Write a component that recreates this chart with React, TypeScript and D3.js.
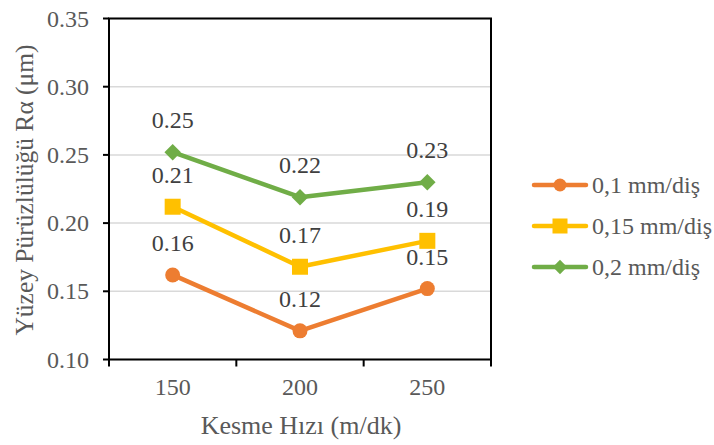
import React from "react";
import * as d3 from "d3";

const categories = ["150", "200", "250"];
const seriesNames = ["0,1 mm/diş", "0,15 mm/diş", "0,2 mm/diş"];
const series01 = [0.162, 0.121, 0.152];
const series015 = [0.212, 0.168, 0.187];
const series02 = [0.252, 0.219, 0.23];
const yTicks = [0.1, 0.15, 0.2, 0.25, 0.3, 0.35];
const colors = ["#ED7D31", "#FFC000", "#70AD47"];
const markers = ["circle", "square", "diamond"];

const W = 714;
const H = 445;
const plot = { left: 109, right: 491, top: 18.5, bottom: 359.5 };
const FONT = "Liberation Serif";
const txt = (size: number) => ({ fontFamily: FONT, fontSize: size });

function Marker({ type, x, y, color, s }: { type: string; x: number; y: number; color: string; s: number }) {
  if (type === "circle") return <circle cx={x} cy={y} r={s * 0.5} fill={color} />;
  if (type === "square")
    return <rect x={x - s * 0.5} y={y - s * 0.5} width={s} height={s} fill={color} />;
  const h = s * 0.55;
  return <path d={`M${x},${y - h}L${x + h},${y}L${x},${y + h}L${x - h},${y}Z`} fill={color} />;
}

export default function App() {
  const data = [series01, series015, series02];
  const x = d3.scaleBand<string>().domain(categories).range([plot.left, plot.right]);
  const y = d3.scaleLinear().domain([0.1, 0.35]).range([plot.bottom, plot.top]);
  const cx = (i: number) => x(categories[i])! + x.bandwidth() / 2;
  const line = d3
    .line<number>()
    .x((_, i) => cx(i))
    .y((d) => y(d));
  const bounds = [...categories.map((c) => x(c)!), plot.right];

  return (
    <svg width={W} height={H} style={{ position: "absolute", left: 0, top: 0, background: "#fff" }}>
      <rect x={0} y={0} width={W} height={H} fill="#fff" />
      {yTicks.map((t) => (
        <line key={t} x1={plot.left} x2={plot.right} y1={y(t)} y2={y(t)} stroke="#D9D9D9" strokeWidth={1.5} />
      ))}
      <rect
        x={plot.left}
        y={plot.top}
        width={plot.right - plot.left}
        height={plot.bottom - plot.top}
        fill="none"
        stroke="#000"
        strokeWidth={2}
      />
      {yTicks.map((t) => (
        <g key={"yt" + t}>
          <line x1={plot.left - 6} x2={plot.left} y1={y(t)} y2={y(t)} stroke="#000" strokeWidth={2} />
          <text x={89} y={y(t)} dy="0.34em" textAnchor="end" style={txt(24)} fill="#595959">
            {t.toFixed(2)}
          </text>
        </g>
      ))}
      {bounds.map((b, i) => (
        <line key={"xt" + i} x1={b} x2={b} y1={plot.bottom} y2={plot.bottom + 7} stroke="#000" strokeWidth={2} />
      ))}
      {categories.map((c, i) => (
        <text key={c} x={cx(i)} y={395} textAnchor="middle" style={txt(24)} fill="#595959">
          {c}
        </text>
      ))}
      <text x={301} y={434} textAnchor="middle" style={txt(26)} fill="#595959">
        Kesme Hızı (m/dk)
      </text>
      <text transform={`translate(33,190) rotate(-90)`} textAnchor="middle" style={txt(25.5)} fill="#595959">
        Yüzey Pürüzlülüğü Rα (μm)
      </text>
      {data.map((s, si) => (
        <g key={"s" + si}>
          <path d={line(s)!} fill="none" stroke={colors[si]} strokeWidth={4.5} strokeLinejoin="round" strokeLinecap="round" />
          {s.map((v, i) => (
            <Marker key={i} type={markers[si]} x={cx(i)} y={y(v)} color={colors[si]} s={si === 1 ? 16 : 15} />
          ))}
          {s.map((v, i) => (
            <text key={"l" + i} x={cx(i)} y={y(v) - 32} dy="0.34em" textAnchor="middle" style={txt(24)} fill="#404040">
              {v.toFixed(2)}
            </text>
          ))}
        </g>
      ))}
      {seriesNames.map((n, i) => {
        const ly = 185 + i * 41;
        return (
          <g key={n}>
            <line x1={534} x2={586} y1={ly} y2={ly} stroke={colors[i]} strokeWidth={4.5} strokeLinecap="round" />
            <Marker type={markers[i]} x={560} y={ly} color={colors[i]} s={i === 1 ? 15 : 13} />
            <text x={592} y={ly} dy="0.34em" style={txt(24)} fill="#595959">
              {n}
            </text>
          </g>
        );
      })}
    </svg>
  );
}
